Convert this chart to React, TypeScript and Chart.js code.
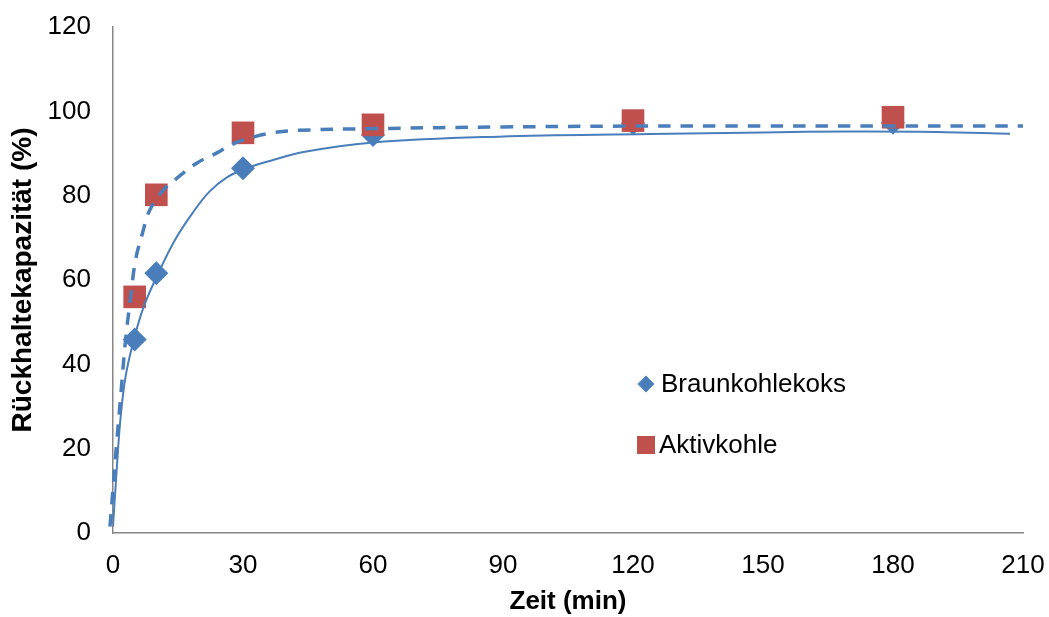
import React, { useEffect, useRef } from "react";
import { Chart, registerables } from "chart.js";

Chart.register(...registerables);

const timeMin = [5, 10, 30, 60, 120, 180];
const braunkohlekoks = [45.9, 61.6, 86.5, 94.4, 97.2, 97.3];
const aktivkohle = [56.0, 80.2, 94.9, 96.8, 97.8, 98.6];

// Trendlines
const trendBraunX = [0, 0.9, 1.7, 2.9, 4.8, 7.1, 10.5, 14.3, 18.3, 22.2, 26.2, 30.9, 36.4, 44.3, 60, 89, 124, 150, 170, 190, 207];
const trendBraunY = [1.5, 15.7, 26.8, 37.1, 45.8, 53.7, 61.7, 69.5, 75.8, 80.9, 84.3, 86.5, 88.3, 90.4, 92.6, 94.0, 94.6, 95.0, 95.2, 95.1, 94.7];
const trendAktivX = [-0.7, 0.1, 0.9, 1.7, 2.9, 4.0, 5.2, 6.8, 8.5, 11.6, 14.7, 19.3, 24.1, 28.0, 32.7, 37.4, 42.9, 60, 90, 120, 150, 180, 210];
const trendAktivY = [1.5, 11.8, 22, 31.5, 45.8, 55.3, 64.7, 71.1, 76.6, 81.3, 84.1, 87.7, 90.2, 92.4, 94.0, 95.0, 95.5, 95.9, 96.3, 96.5, 96.5, 96.5, 96.5];

const xTicks = [0, 30, 60, 90, 120, 150, 180, 210];
const yTicks = [0, 20, 40, 60, 80, 100, 120];

const legendLabels = ["Braunkohlekoks", "Aktivkohle"];

const BLUE = "#4A7EBB";
const RED = "#C0504D";
const FONT = "'Liberation Sans', Arial, sans-serif";

const zip = (xs: number[], ys: number[]) => xs.map((x, i) => ({ x, y: ys[i] }));

const legendPlugin = {
  id: "customLegend",
  afterDraw(chart: any) {
    const ctx = chart.ctx;
    ctx.save();
    ctx.font = `26px ${FONT}`;
    ctx.textBaseline = "middle";
    ctx.textAlign = "left";
    const dx = 646, dy = 384;
    ctx.fillStyle = BLUE;
    ctx.beginPath();
    ctx.moveTo(dx, dy - 8.5);
    ctx.lineTo(dx + 8.5, dy);
    ctx.lineTo(dx, dy + 8.5);
    ctx.lineTo(dx - 8.5, dy);
    ctx.closePath();
    ctx.fill();
    ctx.fillStyle = "#000";
    ctx.fillText(legendLabels[0], 661, dy + 1);
    const sx = 646, sy = 445;
    ctx.fillStyle = RED;
    ctx.fillRect(sx - 9, sy - 9, 18, 18);
    ctx.fillStyle = "#000";
    ctx.fillText(legendLabels[1], 659, sy + 1);
    ctx.restore();
  },
};

export default function App() {
  const ref = useRef<HTMLCanvasElement | null>(null);
  useEffect(() => {
    if (!ref.current) return;
    const chart = new Chart(ref.current, {
      type: "scatter",
      data: {
        datasets: [
          {
            type: "line",
            label: "trend-braun",
            data: zip(trendBraunX, trendBraunY),
            borderColor: BLUE,
            borderWidth: 2,
            pointRadius: 0,
            tension: 0.4,
            fill: false,
            order: 0,
          } as any,
          {
            type: "line",
            label: "trend-aktiv",
            data: zip(trendAktivX, trendAktivY),
            borderColor: BLUE,
            borderWidth: 3.5,
            borderDash: [12.5, 10],
            pointRadius: 0,
            tension: 0.4,
            fill: false,
            clip: false,
            order: 0,
          } as any,
          {
            label: legendLabels[1],
            data: zip(timeMin, aktivkohle),
            backgroundColor: RED,
            borderColor: RED,
            borderWidth: 0,
            pointStyle: "rect",
            pointRadius: 16,
            order: 1,
          } as any,
          {
            label: legendLabels[0],
            data: zip(timeMin, braunkohlekoks),
            backgroundColor: BLUE,
            borderColor: BLUE,
            borderWidth: 0,
            pointStyle: "rectRot",
            pointRadius: 12,
            order: 2,
          } as any,
        ],
      },
      options: {
        animation: false,
        responsive: true,
        maintainAspectRatio: false,
        layout: { padding: { top: 27, right: 26, left: 0, bottom: 0 } },
        plugins: { legend: { display: false }, tooltip: { enabled: false } },
        scales: {
          x: {
            type: "linear",
            min: 0,
            max: 210,
            afterBuildTicks: (s: any) => { s.ticks = xTicks.map((v) => ({ value: v })); },
            afterFit: (s: any) => { s.height = 84; },
            grid: { display: true, drawOnChartArea: false, drawTicks: true, tickLength: 17, tickColor: "rgba(0,0,0,0)" },
            border: { display: true, color: "#868686", width: 1.5 },
            ticks: { color: "#000", font: { family: FONT, size: 26 }, padding: 0, maxRotation: 0 },
            title: {
              display: true,
              text: "Zeit (min)",
              color: "#000",
              font: { family: FONT, size: 26, weight: "bold" },
              padding: { top: 0, bottom: 0 },
            },
          },
          y: {
            type: "linear",
            min: 0,
            max: 120,
            afterBuildTicks: (s: any) => { s.ticks = yTicks.map((v) => ({ value: v })); },
            afterFit: (s: any) => { s.width = 113; },
            grid: { display: true, drawOnChartArea: false, drawTicks: true, tickLength: 22, tickColor: "rgba(0,0,0,0)" },
            border: { display: true, color: "#868686", width: 1.5 },
            ticks: { color: "#000", font: { family: FONT, size: 26 }, padding: 0 },
            title: {
              display: true,
              text: "Rückhaltekapazität (%)",
              color: "#000",
              font: { family: FONT, size: 28, weight: "bold" },
              padding: { top: 6, bottom: 0 },
            },
          },
        },
      },
      plugins: [legendPlugin],
    });
    return () => chart.destroy();
  }, []);
  return (
    <div style={{ position: "fixed", left: 0, top: 0, width: 1049, height: 617, background: "#fff" }}>
      <canvas ref={ref} />
    </div>
  );
}
